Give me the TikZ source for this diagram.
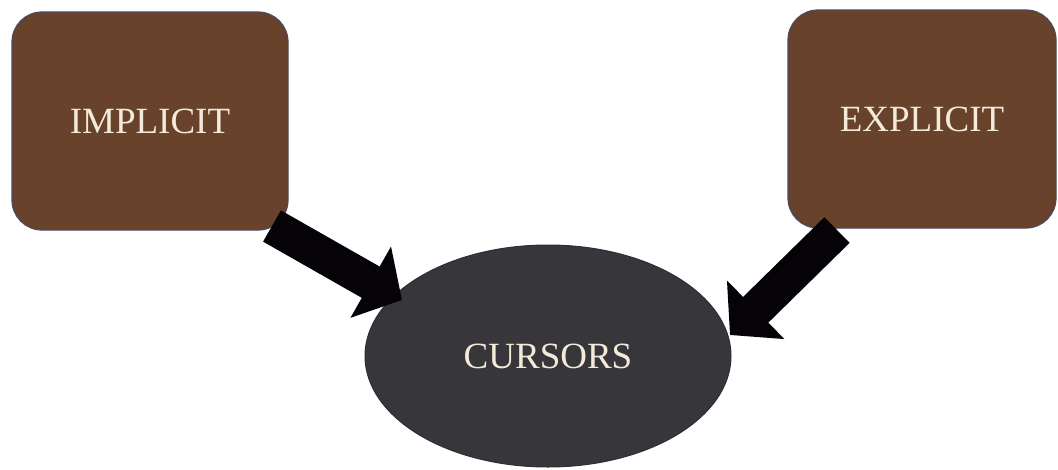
\documentclass[tikz,border=0pt]{standalone}
\usepackage{fontspec}
\setmainfont{Liberation Serif}
\usetikzlibrary{shapes.geometric,arrows.meta}
\definecolor{boxbrown}{HTML}{68422B}
\definecolor{boxedge}{HTML}{4E4A5E}
\definecolor{ovalfill}{HTML}{37363A}
\definecolor{ovaledge}{HTML}{2E2D38}
\definecolor{txtcream}{HTML}{F4EADA}
\definecolor{arrowblack}{HTML}{050308}
\tikzset{
  brownbox/.style={draw=boxedge, line width=1.2pt, fill=boxbrown, rounded corners=30pt,
    inner sep=0pt, outer sep=0pt, text=txtcream, font=\fontsize{37}{42}\selectfont},
  darkoval/.style={ellipse, draw=ovaledge, line width=1pt, fill=ovalfill,
    inner sep=0pt, outer sep=0pt, text=txtcream, font=\fontsize{37}{42}\selectfont},
  blockarrow/.style={draw=arrowblack, line width=36pt,
    -{Triangle[length=36pt, width=80pt]}}
}
\begin{document}
\begin{tikzpicture}[x=1pt, y=-1pt]
\useasboundingbox (0,0) rectangle (1058,469);
\fill[white] (0,0) rectangle (1058,469);
\node[brownbox, minimum width=276pt, minimum height=218pt] (impl) at (150,121) {IMPLICIT};
\node[brownbox, minimum width=268pt, minimum height=218pt] (expl) at (922,119) {EXPLICIT};
\node[darkoval, minimum width=366pt, minimum height=222pt] (curs) at (548,356) {CURSORS};
\coordinate (ltail) at (272,226);
\coordinate (ltip) at (402,300);
\coordinate (rtail) at (837,230);
\coordinate (rtip) at (730,335);
\draw[blockarrow] (ltail) -- (ltip);
\draw[blockarrow] (rtail) -- (rtip);
\end{tikzpicture}
\end{document}
